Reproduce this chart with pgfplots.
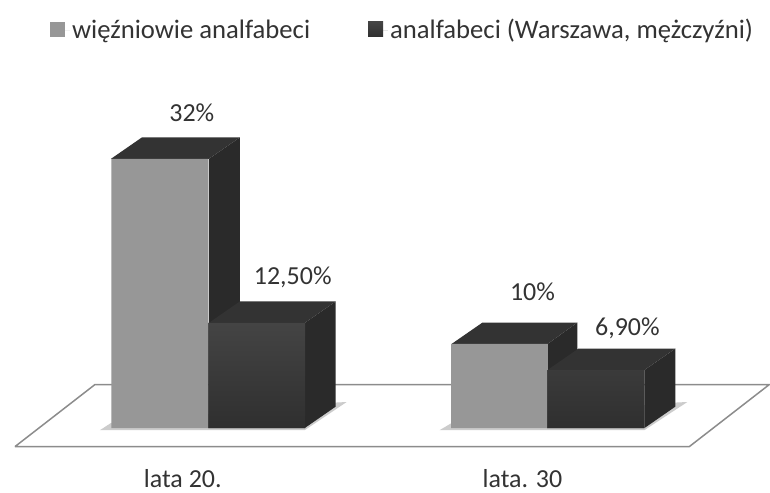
\documentclass[border=0pt]{standalone}
\usepackage{pgfplots}
\pgfplotsset{compat=1.18}
\usepackage{fontspec}
\setmainfont{Carlito}
\definecolor{gA}{HTML}{979797}
\definecolor{gBt}{HTML}{444444}
\definecolor{gBb}{HTML}{2F2F2F}
\definecolor{sideC}{HTML}{2A2A2A}
\definecolor{topC}{HTML}{333333}
\definecolor{txt}{HTML}{333333}
\definecolor{floorC}{HTML}{8C8C8C}
\definecolor{shadowC}{HTML}{CCCCCC}
\begin{document}
\begin{tikzpicture}
\begin{axis}[
  scale only axis, width=770pt, height=493pt,
  xmin=0, xmax=770, ymin=-7.66, ymax=50.89,
  axis line style={draw=none}, tick style={draw=none},
  ytick=\empty, xtick={183,523}, xticklabels={lata 20.,lata. 30},
  xticklabel style={yshift=27pt, font=\fontsize{26}{28}\selectfont, text=txt},
  clip=false,
  legend style={at={(rel axis cs:0.0649,0.965)}, anchor=north west, draw=none, fill=none,
    legend columns=2, font=\fontsize{26.7}{28}\selectfont, text=txt, inner sep=0pt,
    /tikz/every even column/.append style={column sep=56pt}},
  legend image code/.code={\path (0pt,0pt) rectangle (20pt,0pt);\fill[#1] (0pt,-7pt) rectangle (15pt,8pt);},
]
% floor
\addplot[forget plot, draw=floorC, line width=1.5pt, fill=white] coordinates {(15,-2.2) (95,5.17) (770,5.17) (690,-2.2) (15,-2.2)};
% shadows
\addplot[forget plot, draw=none, fill=shadowC] coordinates {(100,-0.25) (111,0.6) (330,3) (347,3.1) (305,-0.25) (100,-0.25)};
\addplot[forget plot, draw=none, fill=shadowC] coordinates {(440,-0.25) (452,0.6) (670,3) (688,3.1) (645,-0.25) (440,-0.25)};
% side and top faces
\addplot[forget plot, draw=none, fill=sideC] coordinates {(209,0) (240,2.55) (240,34.55) (209,32) (209,0)};
\addplot[forget plot, draw=none, fill=topC] coordinates {(111,32) (142,34.55) (240,34.55) (209,32) (111,32)};
\addplot[forget plot, draw=none, fill=sideC] coordinates {(305,0) (336,2.55) (336,15.05) (305,12.5) (305,0)};
\addplot[forget plot, draw=none, fill=topC] coordinates {(209,12.5) (240,15.05) (336,15.05) (305,12.5) (209,12.5)};
\addplot[forget plot, draw=none, fill=sideC] coordinates {(548,0) (578,2.55) (578,12.55) (548,10) (548,0)};
\addplot[forget plot, draw=none, fill=topC] coordinates {(452,10) (483,12.55) (578,12.55) (548,10) (452,10)};
\addplot[forget plot, draw=none, fill=sideC] coordinates {(645,0) (676,2.55) (676,9.45) (645,6.9) (645,0)};
\addplot[forget plot, draw=none, fill=topC] coordinates {(548,6.9) (579,9.45) (676,9.45) (645,6.9) (548,6.9)};
% fronts
\addplot[ybar, bar width=97pt, bar shift=0pt, draw=none, fill=gA] coordinates {(160,32) (500,10)};
\addplot[ybar, bar width=97pt, bar shift=0pt, draw=none, bottom color=gBb, top color=gBt, fill=gBb] coordinates {(257,12.5) (596.5,6.9)};
\legend{więźniowie analfabeci,{analfabeci (Warszawa, mężczyźni)}}
\node[text=txt, font=\fontsize{26}{28}\selectfont] at (axis cs:192,37.5) {32\%};
\node[text=txt, font=\fontsize{26}{28}\selectfont] at (axis cs:293,17.95) {12,50\%};
\node[text=txt, font=\fontsize{26}{28}\selectfont] at (axis cs:533,16.2) {10\%};
\node[text=txt, font=\fontsize{26}{28}\selectfont] at (axis cs:628,11.85) {6,90\%};
\end{axis}
\end{tikzpicture}
\end{document}
